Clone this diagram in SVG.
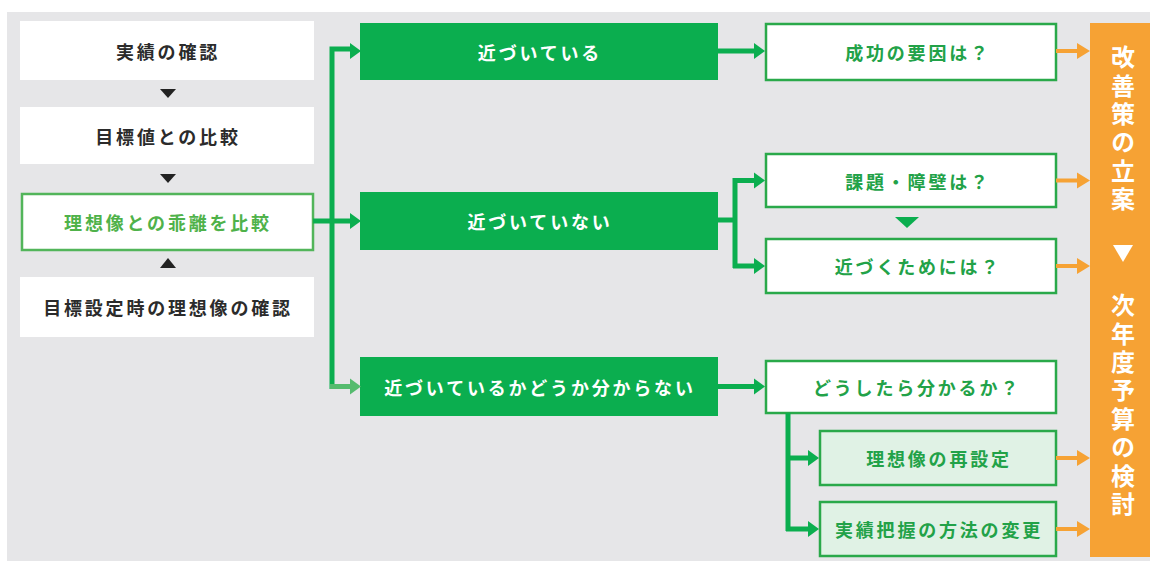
<svg xmlns="http://www.w3.org/2000/svg" width="1150" height="561" viewBox="0 0 1150 561">
<defs>
<style>
text{font-family:"Noto Sans CJK JP","Noto Sans",sans-serif;font-weight:700;font-size:18px;letter-spacing:2.8px;text-anchor:middle;dominant-baseline:central}
.wbox{fill:#ffffff}
.dark{fill:#2b2b2b}
.gbox{fill:#0bae4f}
.wt{fill:#ffffff}
.obox{fill:#ffffff;stroke:#2aa94a;stroke-width:2.5}
.lbox{fill:#e0f2e5;stroke:#2aa94a;stroke-width:2.5}
.gt{fill:#22a248}
.gl{stroke:#0bae4f;stroke-width:5;fill:none}
.ga{fill:#0bae4f}
.ol{stroke:#f6a234;stroke-width:4;fill:none}
.oa{fill:#f6a234}
.vt{fill:#ffffff;font-size:24px;letter-spacing:4.4px;writing-mode:vertical-rl;text-anchor:start}
</style>
</defs>
<rect x="7" y="12" width="1143" height="549" fill="#e6e6e8"/>

<g id="n1"><rect class="wbox" x="20" y="21" width="294" height="59"/><text class="dark" x="168" y="50.5">実績の確認</text></g>
<g id="n2"><rect class="wbox" x="20" y="107" width="294" height="57"/><text class="dark" x="168" y="135.5">目標値との比較</text></g>
<g id="n3"><rect x="22" y="194" width="291" height="56" fill="#ffffff" stroke="#52b55a" stroke-width="2.5"/><text x="168" y="222" fill="#4fb24a">理想像との乖離を比較</text></g>
<g id="n4"><rect class="wbox" x="20" y="277" width="294" height="60"/><text class="dark" x="168" y="307">目標設定時の理想像の確認</text></g>

<g id="g1"><rect class="gbox" x="360" y="23" width="358" height="57"/><text class="wt" x="540" y="51.5">近づいている</text></g>
<g id="g2"><rect class="gbox" x="360" y="192" width="358" height="58"/><text class="wt" x="540" y="221">近づいていない</text></g>
<g id="g3"><rect class="gbox" x="360" y="357" width="358" height="59"/><text class="wt" x="540" y="386.5">近づいているかどうか分からない</text></g>

<g id="r1"><rect class="obox" x="766" y="24" width="290" height="56"/><text class="gt" x="918" y="51.5">成功の要因は？</text></g>
<g id="r2"><rect class="obox" x="766" y="154" width="290" height="53"/><text class="gt" x="918" y="180.5">課題・障壁は？</text></g>
<g id="r3"><rect class="obox" x="766" y="239" width="290" height="54"/><text class="gt" x="918" y="266">近づくためには？</text></g>
<g id="r4"><rect class="obox" x="766" y="361" width="290" height="52"/><text class="gt" x="917" y="387">どうしたら分かるか？</text></g>
<g id="r5"><rect class="lbox" x="820" y="431" width="236" height="54"/><text class="gt" x="939" y="458">理想像の再設定</text></g>
<g id="r6"><rect class="lbox" x="820" y="502" width="236" height="54"/><text class="gt" x="939" y="529">実績把握の方法の変更</text></g>

<g id="side">
<rect class="oa" x="1090" y="23" width="60" height="534"/>
<text class="vt" x="1123" y="45">改善策の立案</text>
<polygon points="1113,245 1133,245 1123,262" fill="#ffffff"/>
<text class="vt" x="1123" y="293">次年度予算の検討</text>
</g>

<g id="connectors">
<polygon points="160,89 176,89 168,98" fill="#222222"/>
<polygon points="160,174 176,174 168,183" fill="#222222"/>
<polygon points="160,268 176,268 168,258" fill="#222222"/>
<polygon points="895,217 919,217 907,228" fill="#0bae4f"/>

<path class="gl" d="M332,389 V49 H352"/>
<polygon class="ga" points="350,43 361,51 350,59"/>
<path class="gl" d="M313,221 H352"/>
<polygon class="ga" points="350,213 361,221 350,229"/>
<path d="M330,386.5 H352" stroke="#55bb6e" stroke-width="5" fill="none"/>
<polygon points="350,378.5 361,386.5 350,394.5" fill="#55bb6e"/>

<path class="gl" d="M718,51 H756"/>
<polygon class="ga" points="754,43 765,51 754,59"/>
<path class="gl" d="M718,220 H735 M735,178 V268 M733,180.5 H756 M733,266 H756"/>
<polygon class="ga" points="754,172.5 765,180.5 754,188.5"/>
<polygon class="ga" points="754,258 765,266 754,274"/>
<path class="gl" d="M718,386.5 H756"/>
<polygon class="ga" points="754,378.5 765,386.5 754,394.5"/>
<path class="gl" d="M788,413 V531 M786,458 H810 M786,529 H810"/>
<polygon class="ga" points="808,450 819,458 808,466"/>
<polygon class="ga" points="808,521 819,529 808,537"/>

<path class="ol" d="M1056,51 H1080 M1056,180.5 H1080 M1056,266 H1080 M1056,458 H1080 M1056,529 H1080"/>
<polygon class="oa" points="1077,43 1090,51 1077,59"/>
<polygon class="oa" points="1077,172.5 1090,180.5 1077,188.5"/>
<polygon class="oa" points="1077,258 1090,266 1077,274"/>
<polygon class="oa" points="1077,450 1090,458 1077,466"/>
<polygon class="oa" points="1077,521 1090,529 1077,537"/>
</g>
</svg>
